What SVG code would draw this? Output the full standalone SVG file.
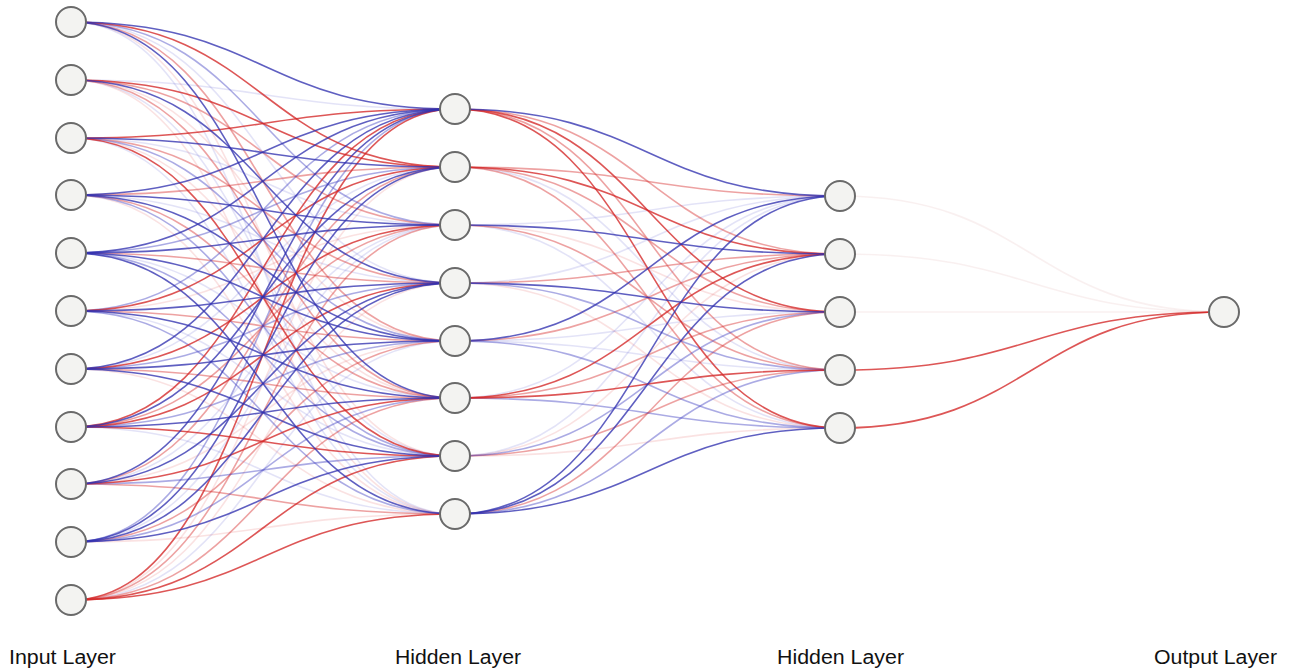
<svg xmlns="http://www.w3.org/2000/svg" width="1290" height="670" viewBox="0 0 1290 670">
<style>
.edges path{fill:none;stroke-width:1.6;stroke-linecap:round}
.p path{stroke:#e04848;stroke-opacity:.16}
.q path{stroke:#5050d0;stroke-opacity:.16}
.r path{stroke:#d83030;stroke-opacity:.45}
.b path{stroke:#4444c4;stroke-opacity:.45}
.R path{stroke:#d42626;stroke-opacity:.78}
.B path{stroke:#3232b0;stroke-opacity:.78}
.f path{stroke:#d8a0a0;stroke-opacity:.16}
.node circle{fill:#f3f3f1;stroke:#6a6a6a;stroke-width:2}
.lbl{font-family:"Liberation Sans",Arial,sans-serif;font-size:20px;fill:#111}
</style>
<rect width="1290" height="670" fill="#fff"/>
<g id="connectors" class="edges">
<g class="p">
<path d="M71 22C263 22 263 456 455 456"/>
<path d="M71 80C263 80 263 341 455 341"/>
<path d="M71 80C263 80 263 514 455 514"/>
<path d="M71 138C263 138 263 398 455 398"/>
<path d="M71 195C263 195 263 514 455 514"/>
<path d="M71 311C263 311 263 225 455 225"/>
<path d="M71 369C263 369 263 514 455 514"/>
<path d="M71 484C263 484 263 341 455 341"/>
<path d="M71 542C263 542 263 514 455 514"/>
<path d="M71 600C263 600 263 167 455 167"/>
<path d="M71 600C263 600 263 283 455 283"/>
<path d="M455 225C648 225 648 312 840 312"/>
<path d="M455 283C648 283 648 428 840 428"/>
<path d="M455 456C648 456 648 254 840 254"/>
<path d="M455 456C648 456 648 428 840 428"/>
</g>
<g class="q">
<path d="M71 22C263 22 263 283 455 283"/>
<path d="M71 22C263 22 263 514 455 514"/>
<path d="M71 80C263 80 263 109 455 109"/>
<path d="M71 80C263 80 263 456 455 456"/>
<path d="M71 138C263 138 263 225 455 225"/>
<path d="M71 138C263 138 263 514 455 514"/>
<path d="M71 195C263 195 263 283 455 283"/>
<path d="M71 253C263 253 263 398 455 398"/>
<path d="M71 311C263 311 263 456 455 456"/>
<path d="M71 369C263 369 263 167 455 167"/>
<path d="M71 427C263 427 263 514 455 514"/>
<path d="M71 484C263 484 263 225 455 225"/>
<path d="M71 542C263 542 263 225 455 225"/>
<path d="M71 600C263 600 263 341 455 341"/>
<path d="M455 167C648 167 648 370 840 370"/>
<path d="M455 225C648 225 648 196 840 196"/>
<path d="M455 225C648 225 648 428 840 428"/>
<path d="M455 283C648 283 648 196 840 196"/>
<path d="M455 341C648 341 648 312 840 312"/>
<path d="M455 341C648 341 648 370 840 370"/>
<path d="M455 398C648 398 648 196 840 196"/>
<path d="M455 456C648 456 648 196 840 196"/>
</g>
<g class="f">
<path d="M840 196C1032 196 1032 312 1224 312"/>
<path d="M840 254C1032 254 1032 312 1224 312"/>
<path d="M840 312C1032 312 1032 312 1224 312"/>
</g>
<g class="r">
<path d="M71 22C263 22 263 341 455 341"/>
<path d="M71 80C263 80 263 225 455 225"/>
<path d="M71 80C263 80 263 398 455 398"/>
<path d="M71 138C263 138 263 283 455 283"/>
<path d="M71 195C263 195 263 167 455 167"/>
<path d="M71 195C263 195 263 398 455 398"/>
<path d="M71 253C263 253 263 283 455 283"/>
<path d="M71 311C263 311 263 341 455 341"/>
<path d="M71 369C263 369 263 398 455 398"/>
<path d="M71 427C263 427 263 225 455 225"/>
<path d="M71 484C263 484 263 167 455 167"/>
<path d="M71 484C263 484 263 514 455 514"/>
<path d="M71 542C263 542 263 341 455 341"/>
<path d="M71 600C263 600 263 225 455 225"/>
<path d="M71 600C263 600 263 398 455 398"/>
<path d="M455 109C648 109 648 254 840 254"/>
<path d="M455 109C648 109 648 370 840 370"/>
<path d="M455 167C648 167 648 196 840 196"/>
<path d="M455 167C648 167 648 312 840 312"/>
<path d="M455 167C648 167 648 428 840 428"/>
<path d="M455 225C648 225 648 370 840 370"/>
<path d="M455 283C648 283 648 254 840 254"/>
<path d="M455 341C648 341 648 254 840 254"/>
<path d="M455 398C648 398 648 312 840 312"/>
<path d="M455 456C648 456 648 370 840 370"/>
<path d="M455 514C648 514 648 312 840 312"/>
</g>
<g class="b">
<path d="M71 22C263 22 263 225 455 225"/>
<path d="M71 138C263 138 263 341 455 341"/>
<path d="M71 195C263 195 263 456 455 456"/>
<path d="M71 253C263 253 263 167 455 167"/>
<path d="M71 253C263 253 263 456 455 456"/>
<path d="M71 311C263 311 263 109 455 109"/>
<path d="M71 311C263 311 263 514 455 514"/>
<path d="M71 369C263 369 263 283 455 283"/>
<path d="M71 427C263 427 263 341 455 341"/>
<path d="M71 484C263 484 263 456 455 456"/>
<path d="M71 542C263 542 263 109 455 109"/>
<path d="M71 542C263 542 263 398 455 398"/>
<path d="M455 283C648 283 648 370 840 370"/>
<path d="M455 341C648 341 648 428 840 428"/>
<path d="M455 398C648 398 648 428 840 428"/>
<path d="M455 456C648 456 648 312 840 312"/>
<path d="M455 514C648 514 648 370 840 370"/>
</g>
<g class="R">
<path d="M71 22C263 22 263 167 455 167"/>
<path d="M71 80C263 80 263 167 455 167"/>
<path d="M71 138C263 138 263 109 455 109"/>
<path d="M71 138C263 138 263 456 455 456"/>
<path d="M71 311C263 311 263 167 455 167"/>
<path d="M71 369C263 369 263 225 455 225"/>
<path d="M71 427C263 427 263 109 455 109"/>
<path d="M71 427C263 427 263 283 455 283"/>
<path d="M71 427C263 427 263 456 455 456"/>
<path d="M71 484C263 484 263 398 455 398"/>
<path d="M71 600C263 600 263 109 455 109"/>
<path d="M71 600C263 600 263 456 455 456"/>
<path d="M71 600C263 600 263 514 455 514"/>
<path d="M455 109C648 109 648 312 840 312"/>
<path d="M455 109C648 109 648 428 840 428"/>
<path d="M455 167C648 167 648 254 840 254"/>
<path d="M455 398C648 398 648 254 840 254"/>
<path d="M455 398C648 398 648 370 840 370"/>
<path d="M840 370C1032 370 1032 312 1224 312"/>
<path d="M840 428C1032 428 1032 312 1224 312"/>
</g>
<g class="B">
<path d="M71 22C263 22 263 109 455 109"/>
<path d="M71 22C263 22 263 398 455 398"/>
<path d="M71 80C263 80 263 283 455 283"/>
<path d="M71 138C263 138 263 167 455 167"/>
<path d="M71 195C263 195 263 109 455 109"/>
<path d="M71 195C263 195 263 225 455 225"/>
<path d="M71 195C263 195 263 341 455 341"/>
<path d="M71 253C263 253 263 109 455 109"/>
<path d="M71 253C263 253 263 225 455 225"/>
<path d="M71 253C263 253 263 341 455 341"/>
<path d="M71 253C263 253 263 514 455 514"/>
<path d="M71 311C263 311 263 283 455 283"/>
<path d="M71 311C263 311 263 398 455 398"/>
<path d="M71 369C263 369 263 109 455 109"/>
<path d="M71 369C263 369 263 341 455 341"/>
<path d="M71 369C263 369 263 456 455 456"/>
<path d="M71 427C263 427 263 167 455 167"/>
<path d="M71 427C263 427 263 398 455 398"/>
<path d="M71 484C263 484 263 109 455 109"/>
<path d="M71 484C263 484 263 283 455 283"/>
<path d="M71 542C263 542 263 167 455 167"/>
<path d="M71 542C263 542 263 283 455 283"/>
<path d="M71 542C263 542 263 456 455 456"/>
<path d="M455 109C648 109 648 196 840 196"/>
<path d="M455 225C648 225 648 254 840 254"/>
<path d="M455 283C648 283 648 312 840 312"/>
<path d="M455 341C648 341 648 196 840 196"/>
<path d="M455 514C648 514 648 196 840 196"/>
<path d="M455 514C648 514 648 254 840 254"/>
<path d="M455 514C648 514 648 428 840 428"/>
</g>
</g>
<g id="input-layer" class="node">
<g id="in1"><circle cx="71" cy="22" r="15"/></g>
<g id="in2"><circle cx="71" cy="80" r="15"/></g>
<g id="in3"><circle cx="71" cy="138" r="15"/></g>
<g id="in4"><circle cx="71" cy="195" r="15"/></g>
<g id="in5"><circle cx="71" cy="253" r="15"/></g>
<g id="in6"><circle cx="71" cy="311" r="15"/></g>
<g id="in7"><circle cx="71" cy="369" r="15"/></g>
<g id="in8"><circle cx="71" cy="427" r="15"/></g>
<g id="in9"><circle cx="71" cy="484" r="15"/></g>
<g id="in10"><circle cx="71" cy="542" r="15"/></g>
<g id="in11"><circle cx="71" cy="600" r="15"/></g>
</g>
<g id="hidden-layer-1" class="node">
<g id="h1n1"><circle cx="455" cy="109" r="15"/></g>
<g id="h1n2"><circle cx="455" cy="167" r="15"/></g>
<g id="h1n3"><circle cx="455" cy="225" r="15"/></g>
<g id="h1n4"><circle cx="455" cy="283" r="15"/></g>
<g id="h1n5"><circle cx="455" cy="341" r="15"/></g>
<g id="h1n6"><circle cx="455" cy="398" r="15"/></g>
<g id="h1n7"><circle cx="455" cy="456" r="15"/></g>
<g id="h1n8"><circle cx="455" cy="514" r="15"/></g>
</g>
<g id="hidden-layer-2" class="node">
<g id="h2n1"><circle cx="840" cy="196" r="15"/></g>
<g id="h2n2"><circle cx="840" cy="254" r="15"/></g>
<g id="h2n3"><circle cx="840" cy="312" r="15"/></g>
<g id="h2n4"><circle cx="840" cy="370" r="15"/></g>
<g id="h2n5"><circle cx="840" cy="428" r="15"/></g>
</g>
<g id="output-layer" class="node">
<g id="out1"><circle cx="1224" cy="312" r="15"/></g>
</g>
<g id="labels">
<text class="lbl" x="9" y="664" textLength="107" lengthAdjust="spacingAndGlyphs">Input Layer</text>
<text class="lbl" x="395" y="664" textLength="126" lengthAdjust="spacingAndGlyphs">Hidden Layer</text>
<text class="lbl" x="777" y="664" textLength="127" lengthAdjust="spacingAndGlyphs">Hidden Layer</text>
<text class="lbl" x="1154" y="664" textLength="123" lengthAdjust="spacingAndGlyphs">Output Layer</text>
</g>
</svg>
